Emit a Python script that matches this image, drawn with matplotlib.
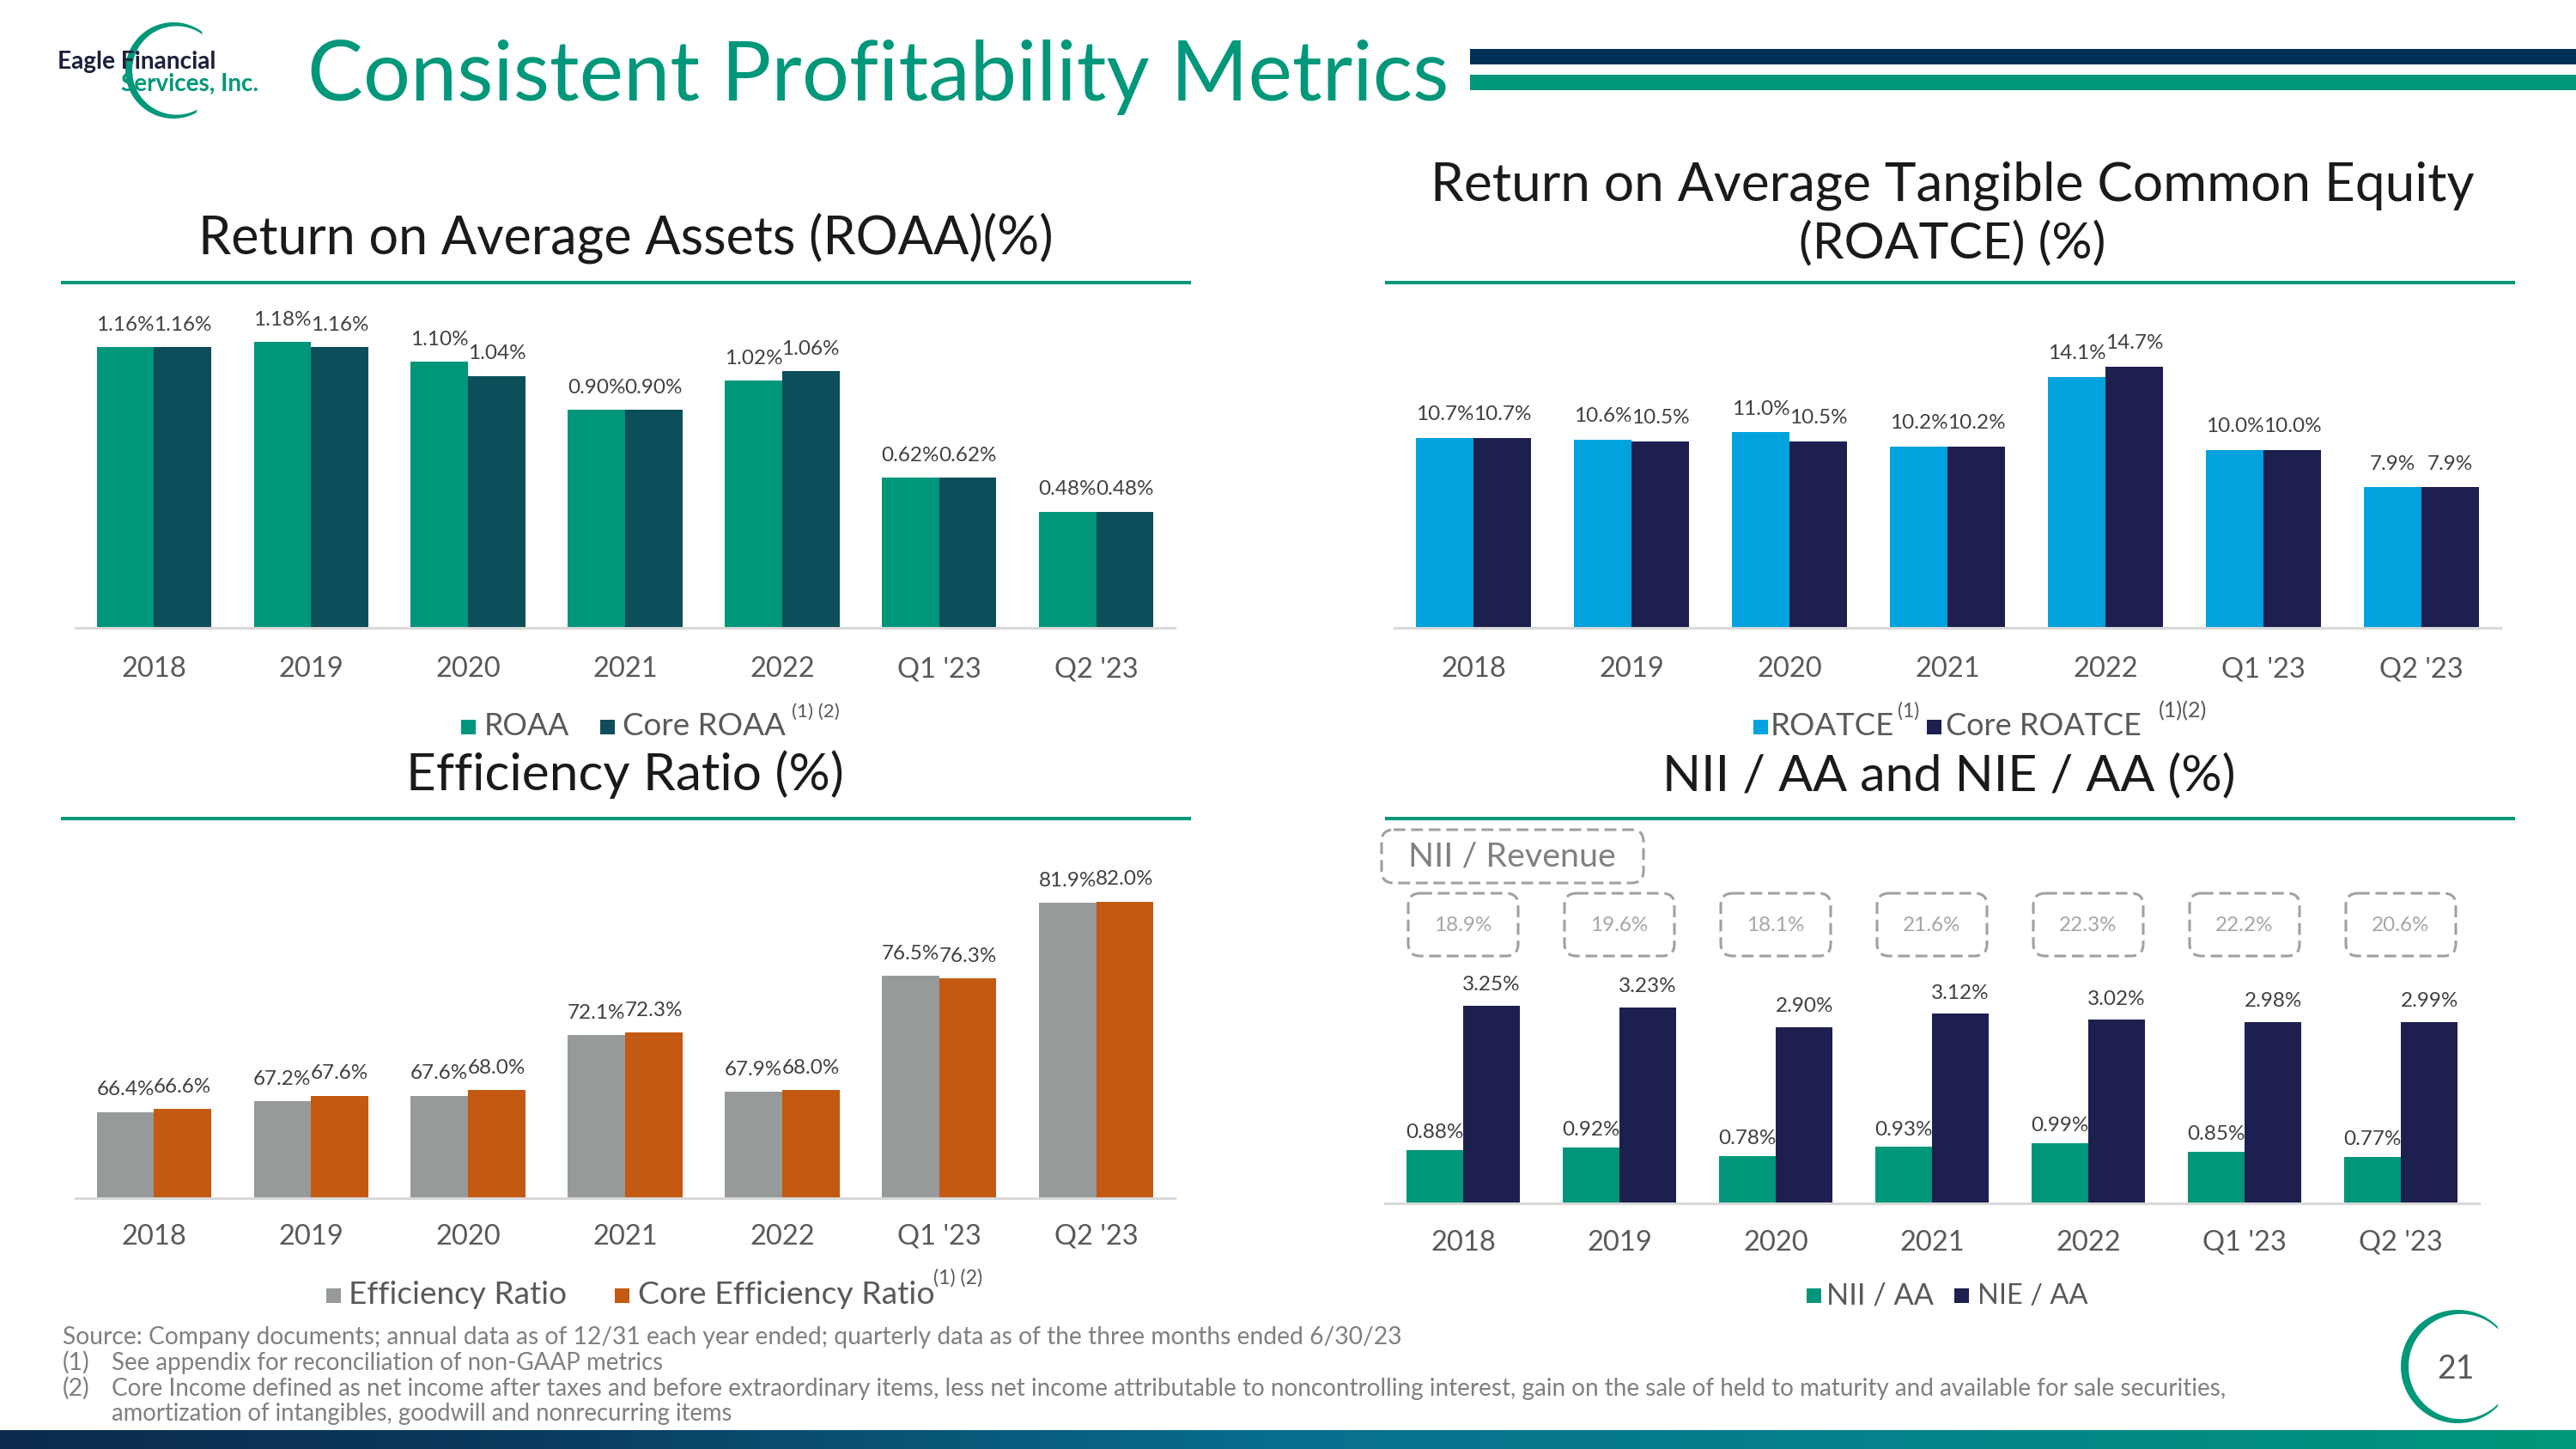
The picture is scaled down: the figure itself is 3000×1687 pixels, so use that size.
import numpy as np
import matplotlib
matplotlib.use('Agg')
import matplotlib.pyplot as plt
from matplotlib.patches import FancyBboxPatch, Rectangle, Polygon
from matplotlib.colors import LinearSegmentedColormap

# ---------------- data ----------------
categories = ['2018', '2019', '2020', '2021', '2022', "Q1 '23", "Q2 '23"]
roaa = [1.16, 1.18, 1.10, 0.90, 1.02, 0.62, 0.48]
core_roaa = [1.16, 1.16, 1.04, 0.90, 1.06, 0.62, 0.48]
roatce = [10.7, 10.6, 11.0, 10.2, 14.1, 10.0, 7.9]
core_roatce = [10.7, 10.5, 10.5, 10.2, 14.7, 10.0, 7.9]
eff_ratio = [66.4, 67.2, 67.6, 72.1, 67.9, 76.5, 81.9]
core_eff_ratio = [66.6, 67.6, 68.0, 72.3, 68.0, 76.3, 82.0]
nii_aa = [0.88, 0.92, 0.78, 0.93, 0.99, 0.85, 0.77]
nie_aa = [3.25, 3.23, 2.90, 3.12, 3.02, 2.98, 2.99]
nii_revenue = [18.9, 19.6, 18.1, 21.6, 22.3, 22.2, 20.6]

# ---------------- style ----------------
plt.rcParams['font.family'] = ['Lato', 'DejaVu Sans']
TEAL = '#00977A'
NAVY_BAR = '#003057'
C_ROAA, C_CROAA = '#00967A', '#0D4E5B'
C_ROATCE, C_CROATCE = '#00A3DE', '#1D1F4E'
C_EFF, C_CEFF = '#969A9B', '#C45911'
C_NII, C_NIE = '#00967A', '#1D1F4E'
TICK_C = '#595959'
LAB_C = '#404040'

W, H = 3000, 1687
fig = plt.figure(figsize=(W / 100, H / 100), dpi=100)
fig.patch.set_facecolor('white')

ov = fig.add_axes([0, 0, 1, 1])
ov.axis('off')
ov.set_xlim(0, W)
ov.set_ylim(H, 0)

renderer = fig.canvas.get_renderer()


def fit(t, width):
    bb = t.get_window_extent(renderer)
    t.set_fontsize(t.get_fontsize() * width / bb.width)
    return t


def otext(x, y, s, width=None, **kw):
    kw.setdefault('va', 'baseline')
    kw.setdefault('ha', 'left')
    t = ov.text(x, y, s, **kw)
    if width is not None:
        fit(t, width)
    return t


def px_axes(l, b, r, ylo, yhi, pxper):
    t = b - (yhi - ylo) * pxper
    ax = fig.add_axes([l / W, 1 - b / H, (r - l) / W, (b - t) / H])
    ax.set_facecolor('none')
    ax.set_ylim(ylo, yhi)
    ax.set_xlim(-0.5, len(categories) - 0.5)
    for s in ['top', 'left', 'right']:
        ax.spines[s].set_visible(False)
    ax.spines['bottom'].set_color('#D9D9D9')
    ax.spines['bottom'].set_linewidth(2.2)
    ax.set_yticks([])
    return ax


def bars(ax, s1, s2, c1, c2, fmt, pad1, pad2, tickpad):
    x = np.arange(len(categories))
    w = 0.365
    b1 = ax.bar(x - w / 2, s1, w, color=c1, zorder=2)
    b2 = ax.bar(x + w / 2, s2, w, color=c2, zorder=2)
    ax.bar_label(b1, labels=[fmt.format(v) for v in s1], padding=pad1,
                 fontsize=17.5, color=LAB_C)
    ax.bar_label(b2, labels=[fmt.format(v) for v in s2], padding=pad2,
                 fontsize=17.5, color=LAB_C)
    ax.set_xticks(x, categories)
    ax.tick_params(axis='x', length=0, pad=tickpad, labelsize=23.5,
                   labelcolor=TICK_C)
    return ax


# ---------------- charts ----------------
ax1 = px_axes(88, 731, 1368, 0, 1.3, 282)
bars(ax1, roaa, core_roaa, C_ROAA, C_CROAA, '{:.2f}%', 11, 11, 24)

ax2 = px_axes(1624, 731, 2912, 0, 16, 20.7)
bars(ax2, roatce, core_roatce, C_ROATCE, C_CROATCE, '{:.1f}%', 12, 12, 24)

ax3 = px_axes(88, 1395, 1368, 60, 84, 15.7)
bars(ax3, eff_ratio, core_eff_ratio, C_EFF, C_CEFF, '{:.1f}%', 11, 11, 21.5)

ax4 = px_axes(1613, 1401, 2887, 0, 3.6, 70.7)
bars(ax4, nii_aa, nie_aa, C_NII, C_NIE, '{:.2f}%', 7, 10, 22)

# ---------------- header ----------------
def crescent(cx, cy, R, a0, a1, tmax, d, color):
    th = np.radians(np.linspace(a0, a1, 200))
    r2 = R - tmax + d
    xo = cx + R * np.cos(th)
    yo = cy - R * np.sin(th)
    xi = cx + d + r2 * np.cos(th[::-1])
    yi = cy - r2 * np.sin(th[::-1])
    ov.add_patch(Polygon(np.column_stack([np.r_[xo, xi], np.r_[yo, yi]]),
                         closed=True, fc=color, ec='none'))


crescent(202, 82, 56, 54, 298, 8, 3.6, TEAL)
otext(67, 80, 'Eagle Financial', 185, fontsize=16, fontweight='bold',
      color='#1B1F3B')
otext(141, 106, 'Services, Inc.', 161, fontsize=16, fontweight='bold',
      color=TEAL)
otext(358, 117, 'Consistent Profitability Metrics', 1329, fontsize=70,
      color=TEAL)
ov.add_patch(Rectangle((1712, 57), W - 1712, 18, fc=NAVY_BAR, ec='none'))
ov.add_patch(Rectangle((1712, 87), W - 1712, 18, fc=TEAL, ec='none'))

# ---------------- panel titles ----------------
TITLE_C = '#1A1A1A'
otext(231, 295, 'Return on Average Assets (ROAA)(%)', 995, fontsize=40,
      color=TITLE_C)
otext(1666, 233, 'Return on Average Tangible Common Equity', 1215,
      fontsize=40, color=TITLE_C)
otext(2095, 300, '(ROATCE) (%)', 357, fontsize=40, color=TITLE_C)
otext(473, 920, 'Efficiency Ratio (%)', 510, fontsize=40, color=TITLE_C)
otext(1936, 920, 'NII / AA and NIE / AA (%)', 668, fontsize=40,
      color=TITLE_C)
for (x0, x1, y) in [(71, 1387, 329), (1613, 2929, 329),
                    (71, 1387, 953), (1613, 2929, 953)]:
    ov.plot([x0, x1], [y, y], color=TEAL, lw=2.9, solid_capstyle='butt')

# ---------------- legends ----------------
LEG_C = '#595959'


def leg_item(sqx, sqy, color, tx, ty, label, lw_, sup=None):
    ov.add_patch(Rectangle((sqx, sqy), 17, 17, fc=color, ec='none'))
    otext(tx, ty, label, lw_, fontsize=20, color=LEG_C)
    if sup is not None:
        sx, sy, sw, ss = sup
        otext(sx, sy, ss, sw, fontsize=12, color=LEG_C)


leg_item(537, 838, C_ROAA, 564, 856, 'ROAA', 99)
leg_item(699, 838, C_CROAA, 725, 856, 'Core ROAA', 190,
         (922, 835, 55, '(1) (2)'))
leg_item(2042, 838, C_ROATCE, 2062, 856, 'ROATCE', 144,
         (2210, 835, 25, '(1)'))
leg_item(2244, 838, C_CROATCE, 2266, 856, 'Core ROATCE', 228,
         (2514, 835, 56, '(1)(2)'))
leg_item(380, 1500, C_EFF, 406, 1518, 'Efficiency Ratio', 254)
leg_item(716, 1500, C_CEFF, 743, 1518, 'Core Efficiency Ratio', 346,
         (1087, 1495, 57, '(1) (2)'))
leg_item(2104, 1500, C_NII, 2127, 1518, 'NII / AA', 125)
leg_item(2276, 1500, C_NIE, 2303, 1518, 'NIE / AA', 128)

# ---------------- NII / Revenue boxes ----------------
BOX_EC = '#A0A0A0'
ov.add_patch(FancyBboxPatch((1609, 966), 305, 62,
                            boxstyle='round,pad=0,rounding_size=14',
                            fc='none', ec=BOX_EC, lw=2.2,
                            ls=(0, (4.5, 2.2))))
t = ov.text(1761, 997, 'NII / Revenue', ha='center', va='center',
            fontsize=24, color='#808080')
fit(t, 241)
for i, v in enumerate(nii_revenue):
    cx = ax4.transData.transform((i, 0))[0]
    ov.add_patch(FancyBboxPatch((cx - 64, 1040), 128, 73,
                                boxstyle='round,pad=0,rounding_size=14',
                                fc='none', ec=BOX_EC, lw=2.2,
                                ls=(0, (4.5, 2.2))))
    ov.text(cx, 1077, f'{v:.1f}%', ha='center', va='center', fontsize=17.5,
            color='#A6A6A6')

# ---------------- footer ----------------
FOOT_C = '#7F7F7F'
f1 = otext(73, 1565, 'Source: Company documents; annual data as of 12/31 each '
           'year ended; quarterly data as of the three months ended 6/30/23',
           1554, fontsize=17, color=FOOT_C)
fs = f1.get_fontsize()
otext(73, 1595, '(1)', fontsize=fs, color=FOOT_C)
otext(130, 1595, 'See appendix for reconciliation of non-GAAP metrics', 640,
      fontsize=17, color=FOOT_C)
otext(73, 1625, '(2)', fontsize=fs, color=FOOT_C)
otext(130, 1625, 'Core Income defined as net income after taxes and before '
      'extraordinary items, less net income attributable to noncontrolling '
      'interest, gain on the sale of held to maturity and available for sale '
      'securities,', 2457, fontsize=17, color=FOOT_C)
otext(130, 1654, 'amortization of intangibles, goodwill and nonrecurring '
      'items', 723, fontsize=17, color=FOOT_C)

# page number
crescent(2862, 1591, 66, 45, 315, 9, 4.2, TEAL)
ov.text(2860, 1594, '21', ha='center', va='center', fontsize=27,
        color='#595959')

# bottom gradient band
cmap = LinearSegmentedColormap.from_list(
    'band', [(0, '#0B2B4C'), (0.2, '#0A3A5E'), (0.5, '#086F8F'),
             (0.75, '#04838A'), (1, '#00977A')])
grad = np.linspace(0, 1, 600)[None, :]
ov.imshow(grad, extent=[0, W, H, 1665], aspect='auto', cmap=cmap, zorder=0)
ov.set_xlim(0, W)
ov.set_ylim(H, 0)

fig.savefig('out.png', dpi=100, facecolor='white')
